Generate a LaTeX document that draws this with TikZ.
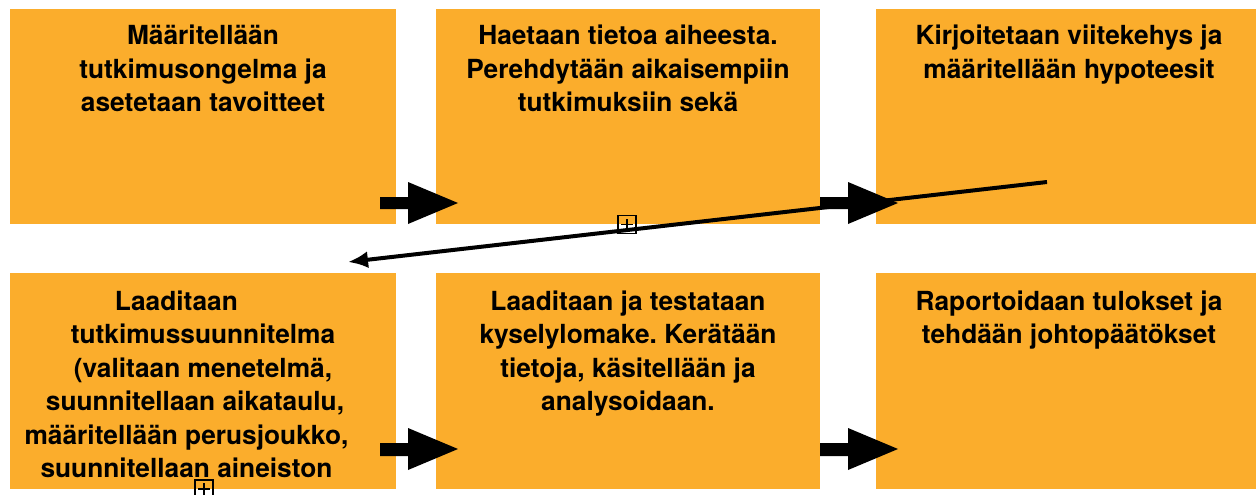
\documentclass[tikz,border=0pt]{standalone}
\usepackage{fontspec}
\setmainfont{TeX Gyre Heros}
\usetikzlibrary{arrows.meta}
\definecolor{boxorange}{RGB}{251,173,44}
\frenchspacing
\begin{document}
\begin{tikzpicture}[x=1pt,y=-1pt,
  box/.style={draw=none,fill=boxorange,minimum width=386pt,minimum height=215pt,anchor=north west,inner sep=0pt,outer sep=0pt},
  txt/.style={anchor=base,inner sep=0pt,font=\fontsize{26.3}{33.5}\selectfont\bfseries},
  blockarrow/.style={fill=black},
  ovf/.style={draw=black,line width=1.6pt,minimum size=18pt,inner sep=0pt},
  plusmark/.style={line width=1.4pt},
  conn/.style={line width=4pt,-{Latex[length=20pt,width=17pt]}}]
\useasboundingbox (0,0) rectangle (1256,495);
% boxes
\node[box] (b1) at (10,9) {};
\node[box,minimum width=384pt] (b2) at (436,9) {};
\node[box,minimum width=384pt] (b3) at (876,9) {};
\node[box,minimum height=216pt] (b4) at (10,273) {};
\node[box,minimum width=384pt,minimum height=216pt] (b5) at (436,273) {};
\node[box,minimum width=384pt,minimum height=216pt] (b6) at (876,273) {};
% texts
\node[txt] (t1) at (203,45) {\begin{tabular}[t]{@{}c@{}}Määritellään\\tutkimusongelma ja\\asetetaan tavoitteet\end{tabular}};
\node[txt] (t2) at (628,45) {\begin{tabular}[t]{@{}c@{}}Haetaan tietoa aiheesta.\\Perehdytään aikaisempiin\\tutkimuksiin sekä\end{tabular}};
\node[txt] (t3) at (1069,45) {\begin{tabular}[t]{@{}c@{}}Kirjoitetaan viitekehys ja\\määritellään hypoteesit\end{tabular}};
\node[txt] (t4) at (203,310) {\begin{tabular}[t]{@{}c@{}}\makebox[176pt][l]{Laaditaan}\\tutkimussuunnitelma\\(valitaan menetelmä,\\suunnitellaan aikataulu,\hspace*{16pt}\\määritellään perusjoukko,\hspace*{33pt}\\suunnitellaan aineiston\hspace*{33pt}\end{tabular}};
\node[txt] (t5) at (628,310) {\begin{tabular}[t]{@{}c@{}}Laaditaan ja testataan\\kyselylomake. Kerätään\\tietoja, käsitellään ja\\analysoidaan.\end{tabular}};
\node[txt] (t6) at (1069,310) {\begin{tabular}[t]{@{}c@{}}Raportoidaan tulokset ja\\tehdään johtopäätökset\end{tabular}};
% block arrows
\fill[blockarrow] (380,197) -- (408,197) -- (408,182) -- (458,203) -- (408,224) -- (408,209) -- (380,209) -- cycle;
\fill[blockarrow] (820,197) -- (848,197) -- (848,182) -- (898,203) -- (848,224) -- (848,209) -- (820,209) -- cycle;
\fill[blockarrow] (380,443) -- (408,443) -- (408,428) -- (458,449) -- (408,470) -- (408,456) -- (380,456) -- cycle;
\fill[blockarrow] (820,443) -- (848,443) -- (848,428) -- (898,449) -- (848,470) -- (848,456) -- (820,456) -- cycle;
% long connector
\coordinate (ls) at (1047,182);
\coordinate (le) at (348,262);
\draw[conn] (ls) -- (le);
% overflow markers
\node[ovf] (o1) at (627,224.5) {};
\draw[plusmark] ([xshift=-6pt]o1.center) -- ([xshift=6pt]o1.center) ([yshift=-6pt]o1.center) -- ([yshift=6pt]o1.center);
\node[ovf] (o2) at (204,489) {};
\draw[plusmark] ([xshift=-6pt]o2.center) -- ([xshift=6pt]o2.center) ([yshift=-6pt]o2.center) -- ([yshift=6pt]o2.center);
\end{tikzpicture}
\end{document}
